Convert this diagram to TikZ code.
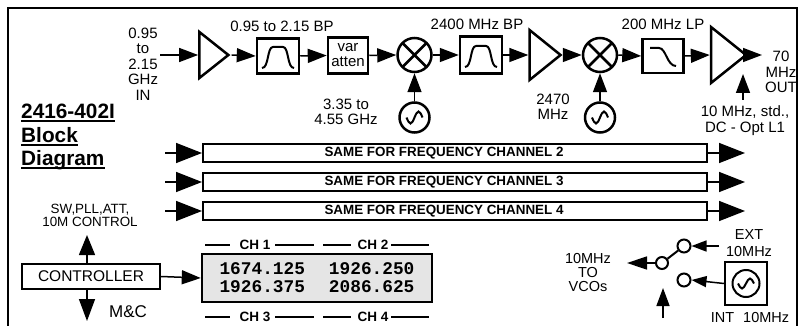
\documentclass[tikz,border=0pt]{standalone}
\usepackage{fontspec}
\setmainfont{Liberation Sans}
\setmonofont{Liberation Mono}
\usetikzlibrary{arrows.meta,calc,shapes.geometric}
\begin{document}
\begin{tikzpicture}[x=1pt,y=-1pt,line join=miter,
  arr/.style={line width=1.5pt,-{Triangle[length=19pt,width=14pt]}},
  sarr/.style={line width=1.5pt,-{Triangle[length=15pt,width=11pt]}},
  blk/.style={draw,line width=2.5pt,inner sep=0pt},
  amp/.style={draw,line width=2.5pt,isosceles triangle,isosceles triangle stretches,inner sep=0pt},
  mix/.style={draw,circle,line width=2.5pt,minimum size=34pt,inner sep=0pt,
    path picture={\draw[line width=2.5pt] (path picture bounding box.north west)--(path picture bounding box.south east)
      (path picture bounding box.north east)--(path picture bounding box.south west);}},
  osc/.style={draw,circle,line width=2.5pt,minimum size=30pt,inner sep=0pt,
    path picture={\begin{scope}[shift={(path picture bounding box.center)},x=1pt,y=1pt]
      \draw[line width=2pt] (-8,0) sin (-4,-6) cos (0,0) sin (4,6) cos (8,0);\end{scope}}},
  bp/.style={blk,minimum width=42pt,minimum height=35pt,
    path picture={\begin{scope}[shift={(path picture bounding box.center)},x=1pt,y=1pt]
      \draw[line width=2pt] (-16,-12) .. controls (-9,-12) and (-11,9) .. (-5,9) -- (5,9) .. controls (11,9) and (9,-12) .. (16,-12);\end{scope}}},
  lp/.style={blk,minimum width=41pt,minimum height=34pt,
    path picture={\begin{scope}[shift={(path picture bounding box.center)},x=1pt,y=1pt]
      \draw[line width=2pt] (-13,8) -- (-4,8) .. controls (3,8) and (4,-10) .. (13,-10);\end{scope}}},
  lbl/.style={font=\fontsize{15}{15.5}\selectfont,inner sep=0pt,align=center},
  sml/.style={font=\fontsize{13.4}{13}\selectfont,inner sep=0pt,align=center},
  bar/.style={draw,line width=2pt,minimum width=504pt,minimum height=18pt,inner sep=0pt},
  bartxt/.style={font=\bfseries\fontsize{13.4}{13}\selectfont,inner sep=0pt},
  ttl/.style={font=\bfseries\fontsize{20.8}{21}\selectfont,inner sep=0pt,anchor=base west},
  chl/.style={font=\bfseries\fontsize{13.5}{13}\selectfont,inner sep=0pt},
  dsh/.style={line width=2pt},
  ctc/.style={draw,circle,line width=2pt,minimum size=13pt,inner sep=0pt}
]
\useasboundingbox (0,0) rectangle (802,326);
\fill[white] (0,0) rectangle (802,326);
\draw[line width=2.5pt] (8,340) -- (8,8) -- (797,8) -- (797,340);

% ---- top chain ----
\coordinate (in) at (160,55);
\node[lbl] (intxt) at (143,64) {0.95\\to\\2.15\\GHz\\IN};
\node[amp,minimum height=29pt,minimum width=46pt] (a1) at (210.5,55) {};
\node[bp] (f1) at (278,56) {};
\node[lbl] (f1t) at (282,26) {0.95 to 2.15 BP};
\node[blk,minimum width=40pt,minimum height=36pt,font=\fontsize{15}{15}\selectfont,align=center] (va) at (348,55.5) {var\\atten};
\node[mix] (m1) at (414.5,55) {};
\node[osc] (o1) at (414.5,117.5) {};
\node[lbl] (o1t) at (346,112) {3.35 to\\4.55 GHz};
\node[bp,minimum height=37pt] (f2) at (481,55) {};
\node[lbl] (f2t) at (477,24) {2400 MHz BP};
\node[amp,minimum height=31pt,minimum width=50pt] (a2) at (541.5,55) {};
\node[mix] (m2) at (600,55) {};
\node[osc] (o2) at (600,117.5) {};
\node[lbl] (o2t) at (553,107) {2470\\MHz};
\node[lp] (f3) at (663,56) {};
\node[lbl] (f3t) at (663,24) {200 MHz LP};
\node[amp,minimum height=35pt,minimum width=56pt] (a3) at (724.5,55) {};
\coordinate (out) at (762,55);
\node[lbl] (outt) at (781,72) {70\\MHz\\OUT};
\coordinate (refb) at (743,100);
\coordinate (reft) at (743,74);
\node[lbl] (reftxt) at (745,120.5) {10 MHz, std.,\\DC - Opt L1};

\draw[arr] (in) -- (a1.west);
\draw[arr] (a1.east) -- (f1.west);
\draw[arr] (f1.east) -- (va.west);
\draw[arr] (va.east) -- (m1.west);
\draw[arr] (m1.east) -- (f2.west);
\draw[arr] (f2.east) -- (a2.west);
\draw[arr] (a2.east) -- (m2.west);
\draw[arr] (m2.east) -- (f3.west);
\draw[arr] (f3.east) -- (a3.west);
\draw[arr] (a3.east) -- (out);
\draw[arr] (o1.north) -- (m1.south);
\draw[arr] (o2.north) -- (m2.south);
\draw[arr] (refb) -- (reft);

% ---- title ----
\node[ttl] (t1) at (21,118) {2416-402I};
\node[ttl] (t2) at (21,142) {Block\hspace{5pt}};
\node[ttl] (t3) at (21,165) {Diagram};
\foreach \t in {t1,t2,t3}{\draw[line width=2pt] ([yshift=-3pt]\t.base west) -- ([yshift=-3pt]\t.base east);}

% ---- channel bars ----
\foreach \n/\y in {2/153,3/182,4/211}{
  \node[bar] (b\n) at (455,\y) {};
  \node[bartxt] (bt\n) at (444,\y) {SAME FOR FREQUENCY CHANNEL \n};
  \coordinate (bl\n) at (165,\y);
  \coordinate (br\n) at (745,\y);
  \draw[arr,-{Triangle[length=26pt,width=20pt]}] (bl\n) -- (b\n.west);
  \draw[arr,-{Triangle[length=26pt,width=20pt]}] (b\n.east) -- (br\n);
}

% ---- controller ----
\node[sml] (ctt) at (90,215) {SW,PLL,ATT,\\10M CONTROL};
\node[blk,line width=2pt,minimum width=138pt,minimum height=25pt,font=\fontsize{15.5}{15}\selectfont] (ctrl) at (91,276.5) {CONTROLLER};
\coordinate (cup) at (87,235);
\coordinate (cdn) at (87,321);
\draw[arr,-{Triangle[length=20pt,width=16pt]}] (ctrl.north-|cup) -- (cup);
\draw[arr,-{Triangle[length=22pt,width=16pt]}] (ctrl.south-|cdn) -- (cdn);
\node[lbl,font=\fontsize{17}{17}\selectfont] (mc) at (128,312) {M\&C};

% ---- LCD ----
\node[blk,fill=black!10,minimum width=230pt,minimum height=48pt,font=\ttfamily\bfseries\fontsize{17.8}{18}\selectfont,align=left] (lcd) at (317,278)
  {1674.125\hspace{24pt}1926.250\\1926.375\hspace{24pt}2086.625};
\draw[arr] (ctrl.east) -- (lcd.west);
\foreach \yy/\a/\b in {245/1/2,317/3/4}{
  \node[chl] (ch\a) at (255,\yy) {CH \a};
  \node[chl] (ch\b) at (373,\yy) {CH \b};
  \draw[dsh] (205,\yy) -- (230,\yy) (275,\yy) -- (314,\yy) (323,\yy) -- (351,\yy) (391,\yy) -- (429,\yy);
}

% ---- 10 MHz switch ----
\node[lbl,font=\fontsize{14.5}{14}\selectfont] (vco) at (588,273) {10MHz\\TO\\VCOs};
\node[ctc,minimum size=12pt] (sc) at (662,263) {};
\node[ctc] (su) at (684,246) {};
\node[ctc] (sl) at (684,280) {};
\coordinate (vcot) at (627,263);
\draw[sarr,-{Triangle[length=20pt,width=13pt]}] (sc.west) -- (vcot);
\draw[line width=2pt] (sc) -- (su);
\coordinate (extin) at (719,246);
\draw[sarr] (extin) -- (su.east);
\node[lbl,font=\fontsize{14.5}{17}\selectfont] (extt) at (749,243) {EXT\\10MHz};
\node[blk,line width=2pt,minimum width=42pt,minimum height=43pt,
  path picture={\begin{scope}[shift={(path picture bounding box.center)},x=1pt,y=1pt]
    \draw[line width=2pt] (0,0) circle (13.5pt);
    \draw[line width=2pt] (-8,0) sin (-4,-5) cos (0,0) sin (4,5) cos (8,0);\end{scope}}] (intosc) at (746,283.5) {};
\draw[sarr] (intosc.west) -- (sl.east);
\node[lbl,font=\fontsize{14.5}{15}\selectfont] (intt) at (750,318) {INT\hspace{9pt}10MHz};
\coordinate (swb) at (663,318);
\coordinate (swt) at (663,288);
\draw[sarr,-{Triangle[length=18pt,width=13pt]}] (swb) -- (swt);
\end{tikzpicture}
\end{document}
